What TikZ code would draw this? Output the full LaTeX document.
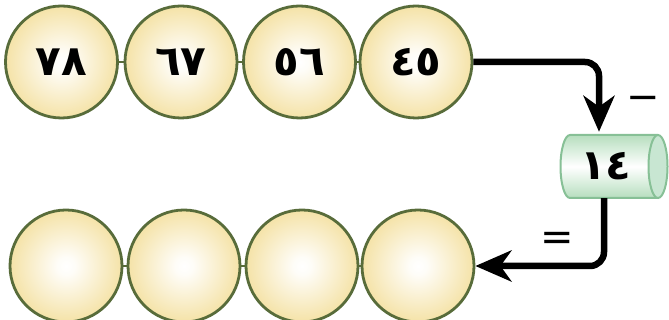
\documentclass[tikz,border=0pt]{standalone}
\usepackage{fontspec}
\newfontfamily\arabicfont[Script=Arabic]{DejaVu Sans}
\newfontfamily\symfont{DejaVu Sans}
\usetikzlibrary{arrows.meta}
\definecolor{ballgold}{RGB}{238,208,110}
\definecolor{ballline}{RGB}{88,108,58}
\definecolor{cylline}{RGB}{135,192,150}
\definecolor{cylfill}{RGB}{182,222,190}
\definecolor{cylface}{RGB}{200,230,210}
\pgfdeclareradialshading{ballshade}{\pgfpoint{0bp}{0bp}}{color(0bp)=(white); color(4bp)=(white!95!ballgold); color(40bp)=(ballgold); color(72bp)=(ballgold)}
\begin{document}
\begin{tikzpicture}[x=1pt,y=1pt,
  ball/.style={circle, draw=ballline, line width=2.8pt, minimum size=112pt, inner sep=0pt, shading=ballshade,
    font=\arabicfont\bfseries\fontsize{42}{46}\selectfont},
  link/.style={draw=ballline, line width=2.2pt},
  flow/.style={line width=6.5pt, rounded corners=14pt, -{Stealth[length=36pt, width=31pt, inset=11pt]}},
  sign/.style={font=\symfont\fontsize{40}{40}\selectfont, inner sep=0pt}]
\useasboundingbox (0,0) rectangle (669,320);
% top row
\node[ball] (t1) at (61.5,258) {٧٨};
\node[ball] (t2) at (181,258) {٦٧};
\node[ball] (t3) at (299.5,258) {٥٦};
\node[ball] (t4) at (416,258) {٤٥};
\draw[link] (t1.east) -- (t2.west);
\draw[link] (t2.east) -- (t3.west);
\draw[link] (t3.east) -- (t4.west);
% bottom row
\node[ball] (b1) at (66,54) {};
\node[ball] (b2) at (184,54) {};
\node[ball] (b3) at (302,54) {};
\node[ball] (b4) at (418,54) {};
\draw[link] (b1.east) -- (b2.west);
\draw[link] (b2.east) -- (b3.west);
\draw[link] (b3.east) -- (b4.west);
% cylinder
\fill[top color=cylfill, bottom color=cylfill, middle color=white]
  (658,185) -- (570,185) arc[start angle=90, end angle=270, x radius=9.5, y radius=31.5] -- (658,122) -- cycle;
\draw[cylline, line width=2pt]
  (658,185) -- (570,185) arc[start angle=90, end angle=270, x radius=9.5, y radius=31.5] -- (658,122);
\filldraw[fill=cylface, draw=cylline, line width=2pt] (658,153.5) ellipse[x radius=9.5, y radius=31.5];
\node[font=\arabicfont\bfseries\fontsize{42}{46}\selectfont, minimum width=90pt, minimum height=63pt, inner sep=0pt] (cyl) at (606,153.5) {١٤};
% connectors
\draw[flow] (t4.east) -| ([xshift=-7pt,yshift=3pt]cyl.north);
\draw[flow] ([xshift=-2pt]cyl.south) |- (b4.east);
% signs
\node[sign] (minus) at (643,217) {−};
\node[sign] (eq) at (557.5,79) {=};
\end{tikzpicture}
\end{document}
